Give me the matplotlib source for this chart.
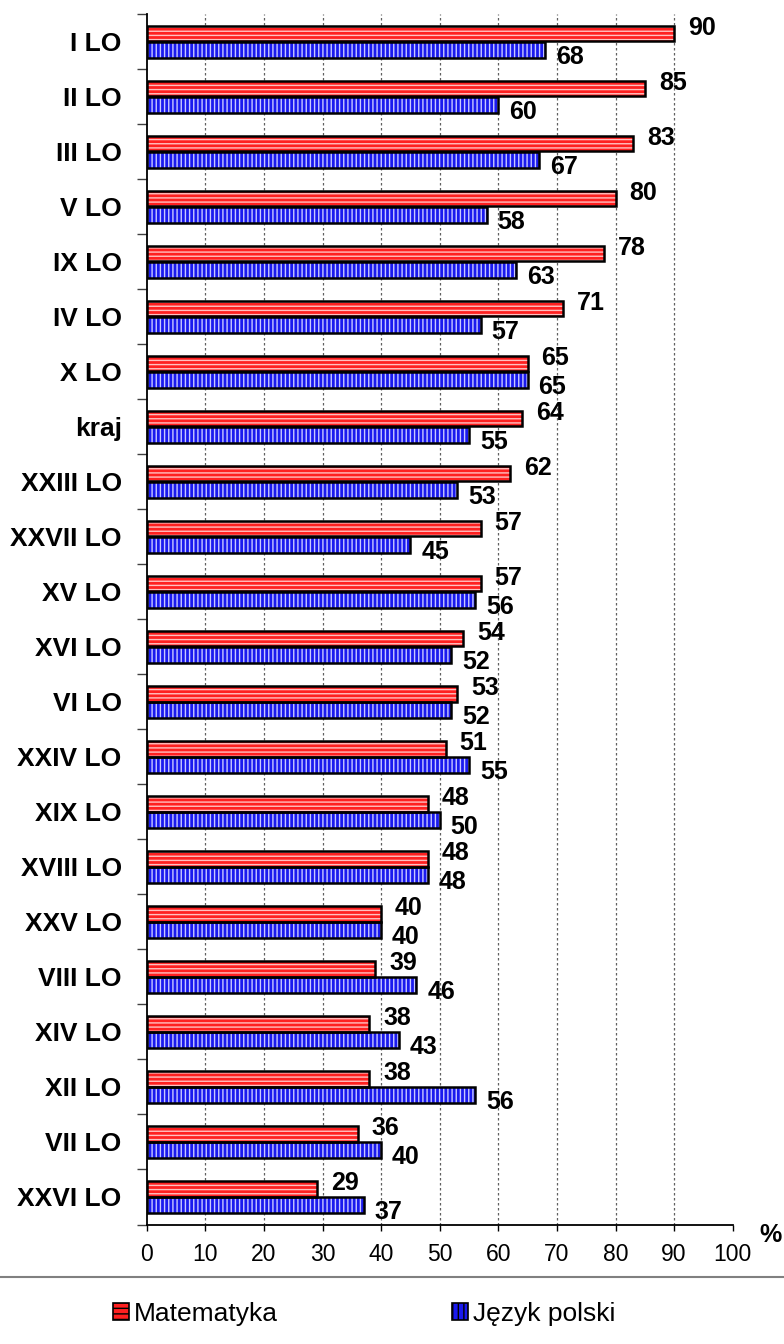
import matplotlib
matplotlib.use("Agg")
import matplotlib.pyplot as plt
from matplotlib import font_manager
from matplotlib.patches import Rectangle
from matplotlib.lines import Line2D
import numpy as np

categories = ["I LO", "II LO", "III LO", "V LO", "IX LO", "IV LO", "X LO", "kraj",
              "XXIII LO", "XXVII LO", "XV LO", "XVI LO", "VI LO", "XXIV LO", "XIX LO",
              "XVIII LO", "XXV LO", "VIII LO", "XIV LO", "XII LO", "VII LO", "XXVI LO"]
matematyka = [90, 85, 83, 80, 78, 71, 65, 64, 62, 57, 57, 54, 53, 51, 48, 48, 40, 39, 38, 38, 36, 29]
polski = [68, 60, 67, 58, 63, 57, 65, 55, 53, 45, 56, 52, 52, 55, 50, 48, 40, 46, 43, 56, 40, 37]
series_names = ["Matematyka", "Język polski"]
x_ticks = list(range(0, 101, 10))


def has_font(name):
    try:
        font_manager.findfont(font_manager.FontProperties(family=name), fallback_to_default=False)
        return True
    except Exception:
        return False


base = "Liberation Sans" if has_font("Liberation Sans") else "DejaVu Sans"
plt.rcParams['font.family'] = [base, 'DejaVu Sans']
plt.rcParams['hatch.linewidth'] = 1.0

W, H = 784, 1344
fig = plt.figure(figsize=(W / 100, H / 100), dpi=100)
ax_left, ax_right = 146.7 / W, 732.7 / W
ax_top, ax_bot = 1 - 14.3 / H, 1 - 1224.5 / H
ax = fig.add_axes([ax_left, ax_bot, ax_right - ax_left, ax_top - ax_bot])

n = len(categories)
y = np.arange(n)
bh = 0.285
off = 0.15
red_face, red_hatch = "#ff2020", "#ffc0c0"
blue_face, blue_hatch = "#1a1aee", "#c8c8ff"

ax.barh(y - off, matematyka, height=bh, color=red_face, edgecolor=red_hatch, linewidth=0, hatch="----", zorder=3)
ax.barh(y + off, polski, height=bh, color=blue_face, edgecolor=blue_hatch, linewidth=0, hatch="||||", zorder=3)
ax.barh(y - off, matematyka, height=bh, facecolor="none", edgecolor="black", linewidth=1.8, zorder=4)
ax.barh(y + off, polski, height=bh, facecolor="none", edgecolor="black", linewidth=1.8, zorder=4)

ax.set_xlim(0, 100)
ax.set_ylim(n - 0.5, -0.5)

px = 100.0 / (732.7 - 146.7)
py = 1.0 / 55.0
for i in range(n):
    ax.text(matematyka[i] + 14 * px, i - off - 6 * py, str(matematyka[i]), ha="left", va="center",
            fontsize=18, fontweight="bold", zorder=5)
    ax.text(polski[i] + 11 * px, i + off + 7 * py, str(polski[i]), ha="left", va="center",
            fontsize=18, fontweight="bold", zorder=5)

for gx in x_ticks[1:-1]:
    ax.axvline(gx, color="#606060", linewidth=0.9, linestyle=(0, (2, 2)), zorder=1)

for s in ["top", "right"]:
    ax.spines[s].set_visible(False)
for s in ["left", "bottom"]:
    ax.spines[s].set_linewidth(1.3)
    ax.spines[s].set_color("black")

ax.set_xticks(x_ticks)
ax.set_xticklabels([str(t) for t in x_ticks], fontsize=16.5)
ax.tick_params(axis="x", direction="out", length=4, width=1, pad=9)

ax.set_yticks(y)
ax.set_yticklabels(categories, fontsize=19, fontweight="bold")
ax.tick_params(axis="y", which="major", length=0, pad=18)
ax.set_yticks(np.arange(-0.5, n, 1.0), minor=True)
ax.tick_params(axis="y", which="minor", length=7, width=1, direction="out", color="#404040")

fig.text(771 / W, 1 - 1235 / H, "%", ha="center", va="center", fontsize=18, fontweight="bold")

fig.add_artist(Line2D([0, 1], [1 - 1277 / H, 1 - 1277 / H], transform=fig.transFigure,
                      color="#808080", linewidth=1.5))

h1 = Rectangle((0, 0), 1, 1, facecolor=red_face, edgecolor="black", hatch="---", linewidth=1.2)
h2 = Rectangle((0, 0), 1, 1, facecolor=blue_face, edgecolor="black", hatch="|||", linewidth=1.2)
leg = fig.legend([h1, h2], series_names, loc="center left", bbox_to_anchor=(113 / W, 1 - 1314 / H),
                 ncol=2, frameon=False, fontsize=19, handlelength=0.6, handleheight=0.6,
                 handletextpad=0.2, columnspacing=6.6, borderpad=0, borderaxespad=0)

fig.savefig("out.png", dpi=100)
